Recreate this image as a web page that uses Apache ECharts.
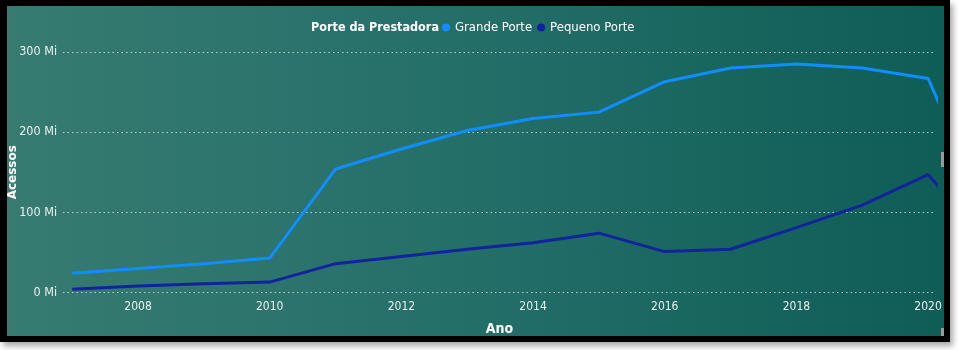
<!DOCTYPE html>
<html>
<head>
<meta charset="utf-8">
<script src="https://cdn.jsdelivr.net/npm/echarts@6/dist/echarts.min.js"></script>
<style>
  html, body { margin: 0; padding: 0; background: #fff; }
  #frame {
    position: absolute; left: 0; top: 0; width: 950px; height: 342px;
    background: #000; box-shadow: 3px 4px 6px rgba(0,0,0,0.35);
  }
  #panel {
    position: absolute; left: 7px; top: 6px; width: 937px; height: 330px;
    background: linear-gradient(to right, #377b71, #26706a 45%, #0e5d56);
  }
  .scroll { position: absolute; background: #9a9a9a; }
  #chart { position: absolute; left: 0; top: 0; width: 958px; height: 350px; }
</style>
</head>
<body>
<div id="frame"></div>
<div id="panel"></div>
<div class="scroll" style="left:941px;top:152px;width:3px;height:15px"></div>
<div class="scroll" style="left:941px;top:328px;width:3px;height:8px"></div>
<div id="chart"></div>
<script>
// anos (o último ponto fica cortado na borda, como no original)
var years = [2007, 2008, 2009, 2010, 2011, 2012, 2013, 2014, 2015, 2016, 2017, 2018, 2019, 2020, 2021]
// acessos em milhões
var grandePorte = [24, 30, 36, 43, 154, 179, 202, 217, 225, 263, 280, 285, 280, 267, 79]
var pequenoPorte = [4, 8, 11, 13, 36, 45, 54, 62, 74, 51, 54, 81, 109, 147, 55]
var xTickYears = [2008, 2010, 2012, 2014, 2016, 2018, 2020]
var yTicks = [0, 100, 200, 300]

var font = '"DejaVu Sans Condensed", "Liberation Sans", sans-serif'

function pairs(vals) {
  var out = []
  for (var i = 0; i < years.length; i++) {
    out.push([years[i], vals[i]])
  }
  return out
}

var chart = echarts.init(document.getElementById('chart'))
var option = {
  backgroundColor: 'transparent',
  animation: false,
  title: {
    text: 'Porte da Prestadora',
    left: 306,
    top: 16,
    textStyle: { color: '#ffffff', fontFamily: font, fontWeight: 'bold', fontSize: 12.5 }
  },
  legend: {
    left: 437,
    top: 16,
    icon: 'circle',
    itemWidth: 8,
    itemHeight: 8,
    itemGap: 5,
    textStyle: { color: '#ffffff', fontFamily: font, fontSize: 13 },
    data: ['Grande Porte', 'Pequeno Porte']
  },
  grid: { left: 63, right: 22, top: 52, bottom: 57.5, outerBoundsMode: 'none' },
  xAxis: {
    type: 'value',
    min: 2006.86,
    max: 2020.12,
    name: 'Ano',
    nameLocation: 'middle',
    nameGap: 30,
    nameMoveOverlap: false,
    nameTextStyle: { color: '#ffffff', fontFamily: font, fontWeight: 'bold', fontSize: 14 },
    axisLine: { show: false },
    axisTick: { show: false },
    splitLine: { show: false },
    axisLabel: {
      customValues: xTickYears,
      color: '#e8f0ee',
      fontFamily: font,
      fontSize: 12,
      margin: 8,
      formatter: function (v) { return String(v) }
    }
  },
  yAxis: {
    type: 'value',
    min: 0,
    max: 300,
    interval: 100,
    name: 'Acessos',
    nameLocation: 'middle',
    nameGap: 44,
    nameMoveOverlap: false,
    nameRotate: 90,
    nameTextStyle: { color: '#ffffff', fontFamily: 'DejaVu Sans, sans-serif', fontWeight: 'bold', fontSize: 12 },
    axisLine: { show: false },
    axisTick: { show: false },
    axisLabel: {
      color: '#e8f0ee',
      fontFamily: font,
      fontSize: 12.5,
      margin: 6,
      formatter: function (v) { return yTicks.indexOf(v) >= 0 ? v + ' Mi' : '' }
    },
    splitLine: {
      show: true,
      lineStyle: { color: 'rgba(225,238,234,0.75)', type: [1.5, 3], width: 1 }
    }
  },
  series: [
    {
      name: 'Grande Porte',
      type: 'line',
      clip: true,
      symbol: 'none',
      color: '#118dff',
      lineStyle: { width: 3, color: '#118dff' },
      data: pairs(grandePorte)
    },
    {
      name: 'Pequeno Porte',
      type: 'line',
      clip: true,
      symbol: 'none',
      color: '#12239e',
      lineStyle: { width: 3, color: '#12239e' },
      data: pairs(pequenoPorte)
    }
  ]
}
chart.setOption(option)
</script>
</body>
</html>
